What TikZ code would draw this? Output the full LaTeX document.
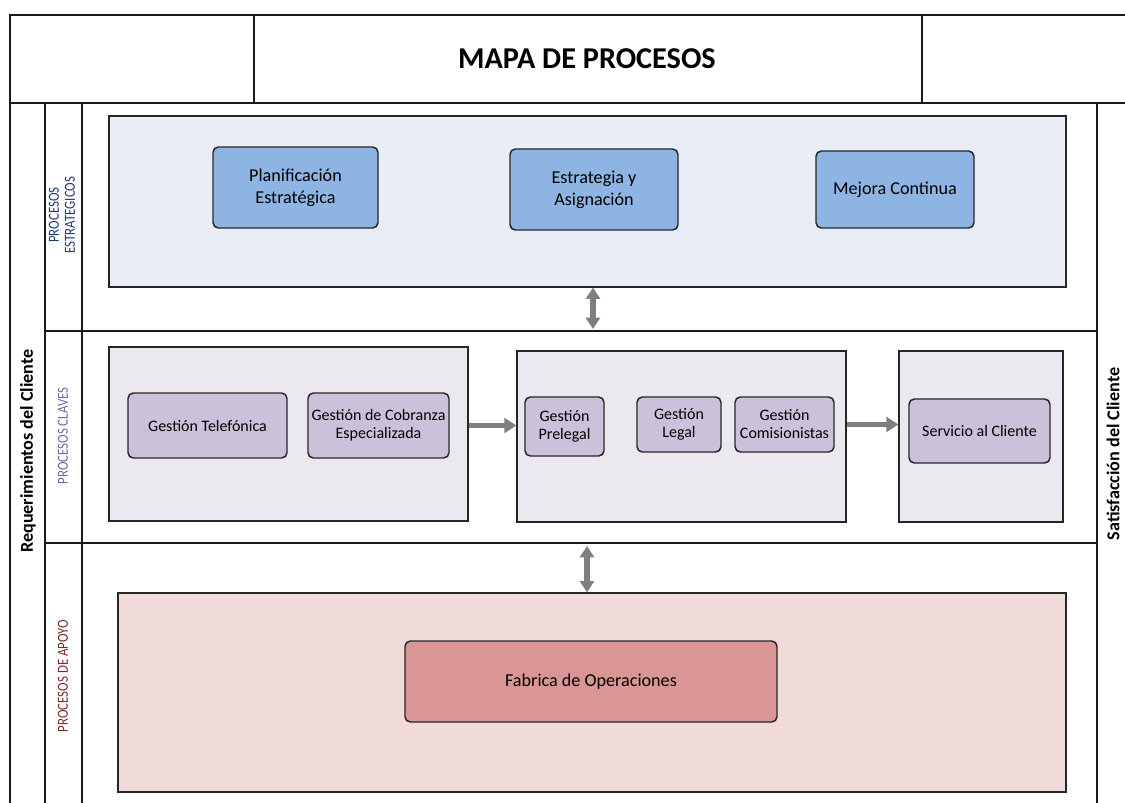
\documentclass[tikz,border=0pt]{standalone}
\usepackage{fontspec}
\setmainfont{Carlito}
\newfontfamily\narrowfont[FakeStretch=0.84]{Carlito}
\usetikzlibrary{arrows.meta}
\definecolor{stratfill}{HTML}{E9EEF6}
\definecolor{stratbox}{HTML}{8EB4E3}
\definecolor{keyfill}{HTML}{EBE8EF}
\definecolor{keybox}{HTML}{CCC1DA}
\definecolor{supfill}{HTML}{F2DCDB}
\definecolor{supbox}{HTML}{D99694}
\definecolor{arrowgray}{HTML}{7F7F7F}
\definecolor{tagblue}{HTML}{1F3A78}
\definecolor{tagpurple}{HTML}{7F5FA8}
\definecolor{tagred}{HTML}{7B2B2A}

\begin{document}
\begin{tikzpicture}[x=0.75pt, y=-0.75pt,
    frame/.style={draw=black!90, line width=0.8pt},
    boxsize/.style 2 args={minimum width=#1*0.75pt, minimum height=#2*0.75pt},
    band/.style={draw=black!85, line width=0.9pt, inner sep=0pt},
    proc/.style={draw=black!85, line width=1.1pt, rounded corners=4pt, inner sep=0pt,
      align=center, font=\fontsize{12}{13.5}\selectfont},
    bigproc/.style={proc, font=\fontsize{13.6}{16.5}\selectfont},
    flow/.style={draw=arrowgray, line width=3.8pt, -{Triangle[length=9pt,width=11pt]}},
    both/.style={draw=arrowgray, line width=3.8pt,
      {Triangle[length=8.5pt,width=10.5pt]}-{Triangle[length=8.5pt,width=10.5pt]}},
    side/.style={rotate=90, font=\bfseries\fontsize{13.6}{16}\selectfont},
    tag/.style={rotate=90, align=center, font=\narrowfont\fontsize{11.5}{12}\selectfont}]
  \useasboundingbox (0,0) rectangle (1125,803);

  \draw[frame] (10,803) -- (10,15) -- (1125,15);
  \draw[frame] (10,103) -- (1125,103);
  \draw[frame] (254,15) -- (254,103) (922,15) -- (922,103);
  \draw[frame] (45,103) -- (45,803) (82,103) -- (82,803) (1097,103) -- (1097,803);
  \draw[frame] (45,331) -- (1097,331) (45,543) -- (1097,543);

  \node[font=\bfseries\fontsize{22.7}{26}\selectfont] (title) at (587,59) {MAPA DE PROCESOS};
  \node[side] (req) at (28,451) {Requerimientos del Cliente};
  \node[side] (sat) at (1113,454) {Satisfacción del Cliente};
  \node[tag, text=tagblue] (tagstrat) at (62,215) {PROCESOS\\ESTRATEGICOS};
  \node[tag, text=tagpurple] (tagkey) at (63,436) {PROCESOS CLAVES};
  \node[tag, text=tagred] (tagsup) at (63,676) {PROCESOS DE APOYO};

  \node[band, fill=stratfill, boxsize={957}{171}] (strat) at (587.5,201.5) {};
  \node[bigproc, fill=stratbox, boxsize={165}{81}] (plan) at (295.5,187.5) {Planificación\\Estratégica};
  \node[bigproc, fill=stratbox, boxsize={168}{81}] (asig) at (594,189.5) {Estrategia y\\Asignación};
  \node[bigproc, fill=stratbox, boxsize={158}{77}] (mejora) at (895,189.5) {Mejora Continua};

  \node[band, fill=keyfill, boxsize={359}{174}] (grpone) at (288.5,434) {};
  \node[band, fill=keyfill, boxsize={329}{171}] (grptwo) at (681.5,436.5) {};
  \node[band, fill=keyfill, boxsize={164}{171}] (grpthree) at (981,436.5) {};
  \node[proc, fill=keybox, boxsize={159}{65}] (tele) at (207.5,425.5) {Gestión Telefónica};
  \node[proc, fill=keybox, boxsize={141}{65}] (cobranza) at (378.5,425.5) {Gestión de Cobranza\\Especializada};
  \node[proc, fill=keybox, boxsize={79}{59}] (prelegal) at (564.5,426.5) {Gestión\\Prelegal};
  \node[proc, fill=keybox, boxsize={84}{55}] (legal) at (679,424.5) {Gestión\\Legal};
  \node[proc, fill=keybox, boxsize={99}{55}] (comis) at (784.5,424.5) {Gestión\\Comisionistas};
  \node[proc, fill=keybox, boxsize={141}{64}] (servicio) at (979.5,431) {Servicio al Cliente};

  \node[band, fill=supfill, boxsize={948}{199}] (apoyo) at (592,692.5) {};
  \node[bigproc, fill=supbox, boxsize={372}{81}] (fabrica) at (591,681.5) {Fabrica de Operaciones};

  \coordinate (keytop) at (593,329);
  \coordinate (keybot) at (587,546);
  \draw[both] (strat.south -| keytop) -- (keytop);
  \draw[both] (keybot) -- (keybot |- apoyo.north);
  \draw[flow] (grpone.east |- cobranza) -- (grptwo.west |- cobranza);
  \draw[flow] (grptwo.east |- legal) -- (grpthree.west |- legal);
\end{tikzpicture}
\end{document}
